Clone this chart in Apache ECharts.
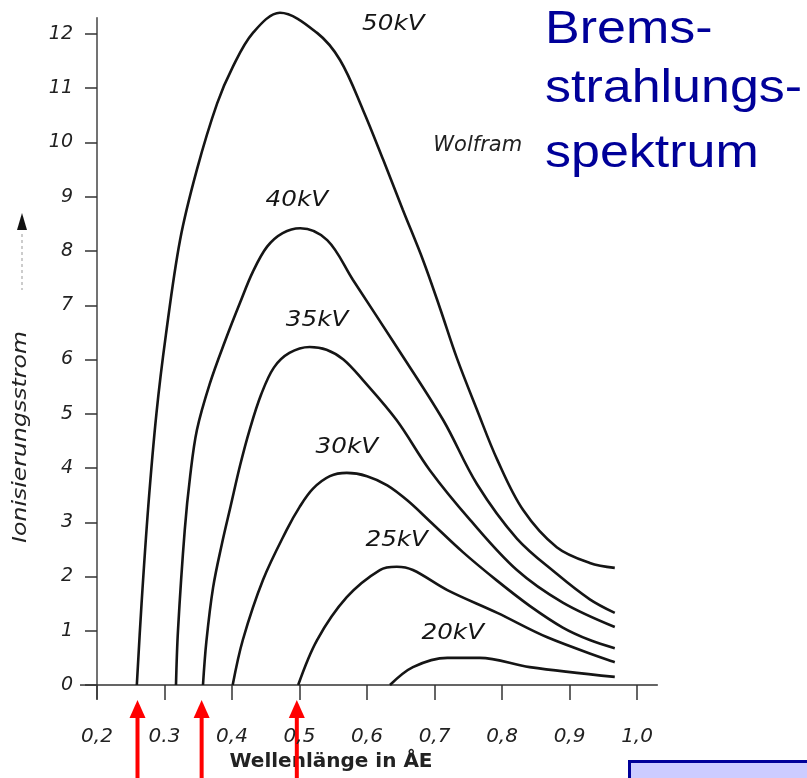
<!DOCTYPE html>
<html><head><meta charset="utf-8">
<style>html,body{margin:0;padding:0;background:#fff}#c{width:807px;height:778px}</style>
<script src="https://cdn.jsdelivr.net/npm/echarts@6.0.0/dist/echarts.min.js"></script>
</head><body><div id="c"></div>
<script>
// ---- data ----
const xTicks = [0.2, 0.3, 0.4, 0.5, 0.6, 0.7, 0.8, 0.9, 1.0];
const xTickLabels = ['0,2', '0.3', '0,4', '0,5', '0,6', '0,7', '0,8', '0,9', '1,0'];
const yTicks = [0, 1, 2, 3, 4, 5, 6, 7, 8, 9, 10, 11, 12];
const seriesNames = ['50kV', '40kV', '35kV', '30kV', '25kV', '20kV'];
const kv50 = [[0.259,0],[0.266,1.5],[0.276,3.3],[0.288,5.0],[0.302,6.45],[0.323,8.2],[0.348,9.5],[0.378,10.72],[0.401,11.39],[0.431,12.02],[0.471,12.39],[0.526,12.02],[0.560,11.52],[0.594,10.60],[0.624,9.68],[0.653,8.76],[0.683,7.83],[0.708,6.95],[0.733,6.03],[0.763,5.07],[0.793,4.15],[0.831,3.23],[0.881,2.54],[0.930,2.25],[0.967,2.16]];
const kv40 = [[0.317,0],[0.320,1.01],[0.330,2.86],[0.338,3.85],[0.348,4.70],[0.367,5.55],[0.390,6.35],[0.412,7.05],[0.431,7.62],[0.452,8.08],[0.475,8.33],[0.501,8.42],[0.541,8.20],[0.579,7.47],[0.644,6.23],[0.713,4.88],[0.763,3.70],[0.822,2.70],[0.881,2.05],[0.930,1.58],[0.967,1.33]];
const kv35 = [[0.357,0],[0.362,0.8],[0.372,1.8],[0.385,2.6],[0.398,3.3],[0.412,4.05],[0.426,4.7],[0.443,5.35],[0.462,5.85],[0.485,6.12],[0.515,6.23],[0.540,6.18],[0.565,6.0],[0.594,5.62],[0.644,4.88],[0.693,3.96],[0.753,3.04],[0.822,2.12],[0.890,1.52],[0.967,1.07]];
const kv30 = [[0.401,0],[0.416,0.83],[0.446,1.94],[0.481,2.86],[0.500,3.28],[0.520,3.62],[0.545,3.85],[0.570,3.91],[0.600,3.85],[0.630,3.68],[0.660,3.40],[0.693,3.02],[0.742,2.45],[0.793,1.92],[0.841,1.46],[0.890,1.06],[0.930,0.83],[0.967,0.68]];
const kv25 = [[0.498,0],[0.526,0.83],[0.570,1.62],[0.619,2.12],[0.644,2.18],[0.668,2.12],[0.719,1.75],[0.793,1.33],[0.867,0.88],[0.967,0.42]];
const kv20 = [[0.634,0],[0.668,0.33],[0.719,0.50],[0.767,0.50],[0.841,0.33],[0.967,0.15]];
const arrowX = [0.26, 0.355, 0.496];
const titleLines = ['Brems-', 'strahlungs-', 'spektrum'];
const xName = 'Wellenlänge in ÅE';
const yName = 'Ionisierungsstrom';
const material = 'Wolfram';

const allSeries = [kv50, kv40, kv35, kv30, kv25, kv20];
const labelAt = [[0.639,12.17],[0.496,8.94],[0.526,6.73],[0.570,4.39],[0.644,2.67],[0.727,0.96]];

const chart = echarts.init(document.getElementById('c'), null, {renderer: 'canvas'});
const ink = '#151515';
const scanFont = 'DejaVu Sans';
chart.setOption({
  animation: false,
  backgroundColor: '#ffffff',
  grid: {left: 97, right: 149.7, top: 17.7, bottom: 79.4, containLabel: false},
  xAxis: {
    type: 'value', min: 0.2, max: 1.03,
    axisLine: {onZero: true, lineStyle: {color: '#333', width: 1.5}},
    axisTick: {show: true, length: 15, customValues: xTicks, lineStyle: {color: '#333', width: 1.5}},
    axisLabel: {customValues: xTicks, margin: 28, fontSize: 20, fontStyle: 'italic', color: '#222', fontFamily: scanFont,
      formatter: v => xTickLabels[Math.round((v - 0.2) * 10)]},
    splitLine: {show: false}
  },
  yAxis: {
    type: 'value', min: -0.25, max: 12.3,
    axisLine: {show: true, lineStyle: {color: '#444', width: 1.5}},
    axisTick: {show: true, length: 12, customValues: yTicks, lineStyle: {color: '#333', width: 1.5}},
    axisLabel: {customValues: yTicks, margin: 24, fontSize: 19, fontStyle: 'italic', color: '#222', fontFamily: scanFont,
      formatter: v => String(v)},
    splitLine: {show: false}
  },
  series: allSeries.map((d, i) => ({
    name: seriesNames[i], type: 'line', data: d, smooth: 0.35, showSymbol: false, symbol: 'none',
    lineStyle: {color: ink, width: 2.6}, clip: false
  }))
});

function px(x, y) { return chart.convertToPixel({gridIndex: 0}, [x, y]); }
const graphics = [];
// curve labels
labelAt.forEach((p, i) => {
  const q = px(p[0], p[1]);
  graphics.push({type: 'text', x: q[0], y: q[1], scaleX: 1.12, style: {text: seriesNames[i], font: 'italic 22px "DejaVu Sans"', fill: ink, align: 'center', verticalAlign: 'middle'}});
});
const wq = px(0.764, 9.95);
graphics.push({type: 'text', x: wq[0], y: wq[1], style: {text: material, font: 'italic 21px "DejaVu Sans"', fill: '#222', align: 'center', verticalAlign: 'middle'}});
// title (three lines)
const titleMid = [30, 89, 154];
titleLines.forEach((t, i) => {
  graphics.push({type: 'text', x: 545, y: titleMid[i], scaleX: 1.13, style: {text: t, font: '46px "Liberation Sans"', fill: '#000099', align: 'left', verticalAlign: 'middle'}});
});
// axis names
graphics.push({type: 'text', x: 331, y: 762, style: {text: xName, font: 'bold 20px "DejaVu Sans"', fill: '#222', align: 'center', verticalAlign: 'middle'}});
graphics.push({type: 'text', x: 21, y: 437, rotation: Math.PI / 2, scaleX: 1.18, style: {text: yName, font: 'italic 20px "DejaVu Sans"', fill: '#222', align: 'center', verticalAlign: 'middle'}});
graphics.push({type: 'polygon', shape: {points: [[22, 213], [17, 230], [27, 230]]}, style: {fill: '#111'}});
graphics.push({type: 'line', shape: {x1: 22, y1: 234, x2: 22, y2: 290}, style: {stroke: '#999', lineWidth: 1, lineDash: [3, 3]}});
// x-axis line extension left of the y axis
const o = px(0.2, 0);
graphics.push({type: 'line', shape: {x1: o[0] - 17, y1: o[1], x2: o[0], y2: o[1]}, style: {stroke: '#333', lineWidth: 1.5}});
// red arrows
arrowX.forEach(a => {
  const xx = px(a, 0)[0];
  graphics.push({type: 'line', shape: {x1: xx, y1: 778, x2: xx, y2: 712}, style: {stroke: '#ff0000', lineWidth: 4}});
  graphics.push({type: 'polygon', shape: {points: [[xx, 700], [xx - 8, 718], [xx + 8, 718]]}, style: {fill: '#ff0000'}});
});
// blue box
graphics.push({type: 'rect', shape: {x: 629.5, y: 761.5, width: 200, height: 40}, style: {fill: '#ccccff', stroke: '#000099', lineWidth: 3}});
chart.setOption({graphic: graphics});
</script>
</body></html>
